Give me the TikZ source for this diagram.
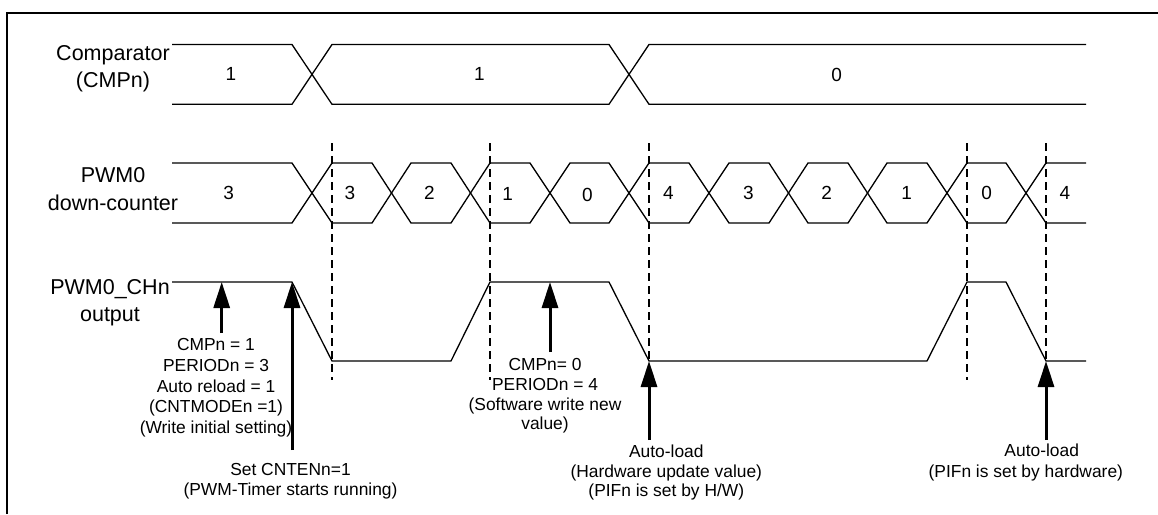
\documentclass[tikz,border=0pt]{standalone}
\usepackage{fontspec}
\setmainfont{Liberation Sans}
\usetikzlibrary{arrows.meta}
\tikzset{
  bus/.style={line width=1.3pt},
  guide/.style={line width=1.3pt,dash pattern=on 8pt off 5pt},
  ptr/.style={line width=3pt,-{Triangle[length=26pt,width=16pt]}},
  frame/.style={line width=2pt},
  sig/.style={align=center,inner sep=0pt,font=\fontsize{21.5}{27.2}\selectfont},
  val/.style={inner sep=0pt,font=\fontsize{19}{22}\selectfont},
  note/.style={align=center,inner sep=0pt,font=\fontsize{17.4}{20.7}\selectfont},
  tightnote/.style={note,font=\fontsize{17.4}{19.6}\selectfont}
}

\begin{document}
\begin{tikzpicture}[x=1pt,y=-1pt]
      \useasboundingbox (0,0) rectangle (1158,514);
      \draw[frame] (7,514) -- (7,13) -- (1158,13);

      \node[sig] (cmpname) at (113,68.5) {Comparator\\(CMPn)};
      \node[sig] (cntname) at (113,189) {PWM0\\down-counter};
      \node[sig] (outname) at (110,303) {PWM0\_CHn\\output};

      % comparator bus
      \draw[bus] (172,44.5) -- (292,44.5) -- (332,104.3) -- (609,104.3) -- (649,44.5) -- (1086,44.5);
      \draw[bus] (172,104.3) -- (292,104.3) -- (332,44.5) -- (609,44.5) -- (649,104.3) -- (1086,104.3);
      \node[val] (c1) at (231,74) {1};
      \node[val] (c2) at (479.3,74) {1};
      \node[val] (c3) at (836.7,75) {0};

      % down-counter bus
      \draw[bus] (172,163) -- (292,163) -- (332,223) -- (372,223) -- (411,163) -- (451,163)
         -- (490,223) -- (530,223) -- (570,163) -- (609,163) -- (649,223) -- (689,223)
         -- (729,163) -- (769,163) -- (808,223) -- (848,223) -- (887,163) -- (927,163)
         -- (967,223) -- (1006,223) -- (1046,163) -- (1086,163);
      \draw[bus] (172,223) -- (292,223) -- (332,163) -- (372,163) -- (411,223) -- (451,223)
         -- (490,163) -- (530,163) -- (570,223) -- (609,223) -- (649,163) -- (689,163)
         -- (729,223) -- (769,223) -- (808,163) -- (848,163) -- (887,223) -- (927,223)
         -- (967,163) -- (1006,163) -- (1046,223) -- (1086,223);
      \node[val] (n1)  at (228.7,192.5) {3};
      \node[val] (n2)  at (350,192.5) {3};
      \node[val] (n3)  at (429.3,192.7) {2};
      \node[val] (n4)  at (507.7,194) {1};
      \node[val] (n5)  at (587.3,195) {0};
      \node[val] (n6)  at (668.3,192.5) {4};
      \node[val] (n7)  at (748.3,192.5) {3};
      \node[val] (n8)  at (826.7,192.5) {2};
      \node[val] (n9)  at (906.7,192.5) {1};
      \node[val] (n10) at (986.7,192.5) {0};
      \node[val] (n11) at (1065,192.5) {4};

      % output waveform
      \coordinate (o0) at (172,282);
      \coordinate (o1) at (292,282);
      \coordinate (o2) at (332,361);
      \coordinate (o3) at (451,361);
      \coordinate (o4) at (490,282);
      \coordinate (o5) at (609,282);
      \coordinate (o6) at (649,361);
      \coordinate (o7) at (927,361);
      \coordinate (o8) at (967,282);
      \coordinate (o9) at (1006,282);
      \coordinate (o10) at (1046,361);
      \coordinate (o11) at (1086,361);
      \draw[bus] (o0) -- (o1) -- (o2) -- (o3) -- (o4) -- (o5) -- (o6) -- (o7) -- (o8) -- (o9) -- (o10) -- (o11);

      \draw[guide] (332,143) -- (332,380) (490,143) -- (490,380) (649,143) -- (649,380)
         (967,143) -- (967,380) (1046,143) -- (1046,380);

      \coordinate (w1) at (221.7,282);
      \coordinate (w3) at (550,282);
      \coordinate (s1) at (221.7,333);
      \coordinate (s2) at (292,450);
      \coordinate (s3) at (550,352);
      \coordinate (s4) at (649,440);
      \coordinate (s5) at (1046,440);

      \draw[ptr] (s1) -- (w1);
      \draw[ptr] (s2) -- (o1);
      \draw[ptr] (s3) -- (w3);
      \draw[ptr] (s4) -- (o6);
      \draw[ptr] (s5) -- (o10);

      \node[note] (init) at (216,388) {CMPn = 1\\PERIODn = 3\\Auto reload = 1\\(CNTMODEn =1)\\(Write initial setting)};
      \node[tightnote] (start) at (290.5,481.5) {Set CNTENn=1\\(PWM-Timer starts running)};
      \node[tightnote] (swwrite) at (545,396) {CMPn= 0\\PERIODn = 4\\(Software write new\\value)};
      \node[tightnote] (hwload) at (666.3,472.5) {Auto-load\\(Hardware update value)\\(PIFn is set by H/W)};
      \node[note] (autoB) at (1041.7,450.7) {Auto-load};
      \node[note] (pifB) at (1025.8,473.3) {(PIFn is set by hardware)};
    \end{tikzpicture}
\end{document}
